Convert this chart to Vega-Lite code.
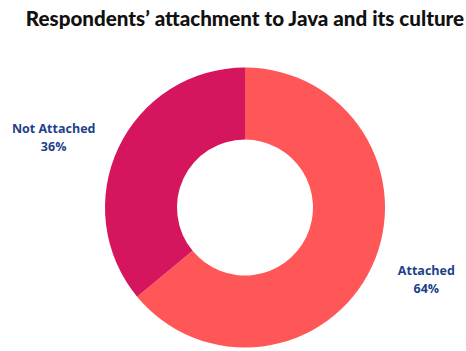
{
  "$schema": "https://vega.github.io/schema/vega-lite/v6.json",
  "autosize": {"type": "none"},
  "width": 442,
  "height": 287,
  "padding": {"top": 64, "left": 24, "right": 0, "bottom": 0},
  "background": "white",
  "title": {
    "text": "Respondents’ attachment to Java and its culture",
    "font": "Lato",
    "fontSize": 20.6,
    "fontWeight": 900,
    "color": "#111111",
    "anchor": "middle",
    "frame": "group",
    "offset": 33
  },
  "data": {
    "values": [
      {"category": "Attached", "value": 64, "label": "Attached|64%"},
      {"category": "Not Attached", "value": 36, "label": "Not Attached|36%"}
    ]
  },
  "encoding": {
    "theta": {"field": "value", "type": "quantitative", "stack": true},
    "color": {
      "field": "category",
      "type": "nominal",
      "sort": ["Attached", "Not Attached"],
      "scale": {"domain": ["Attached", "Not Attached"], "range": ["#FF5757", "#D5165F"]},
      "legend": null
    }
  },
  "layer": [
    {
      "mark": {"type": "arc", "innerRadius": 68, "outerRadius": 140}
    },
    {
      "mark": {
        "type": "text",
        "radius": 196,
        "font": "Open Sans",
        "fontSize": 12.5,
        "fontWeight": "bold",
        "fill": "#1E3F8C",
        "lineBreak": "|",
        "lineHeight": 17.7,
        "align": "center",
        "baseline": "middle",
        "dx": 4,
        "dy": -20
      },
      "encoding": {
        "text": {"condition": {"test": "datum.category === 'Attached'", "field": "label"}, "value": ""}
      }
    },
    {
      "mark": {
        "type": "text",
        "radius": 196,
        "font": "Open Sans",
        "fontSize": 12.5,
        "fontWeight": "bold",
        "fill": "#1E3F8C",
        "lineBreak": "|",
        "lineHeight": 17.7,
        "align": "center",
        "baseline": "middle",
        "dx": -14,
        "dy": 5
      },
      "encoding": {
        "text": {"condition": {"test": "datum.category === 'Not Attached'", "field": "label"}, "value": ""}
      }
    }
  ],
  "config": {"view": {"stroke": null}}
}
